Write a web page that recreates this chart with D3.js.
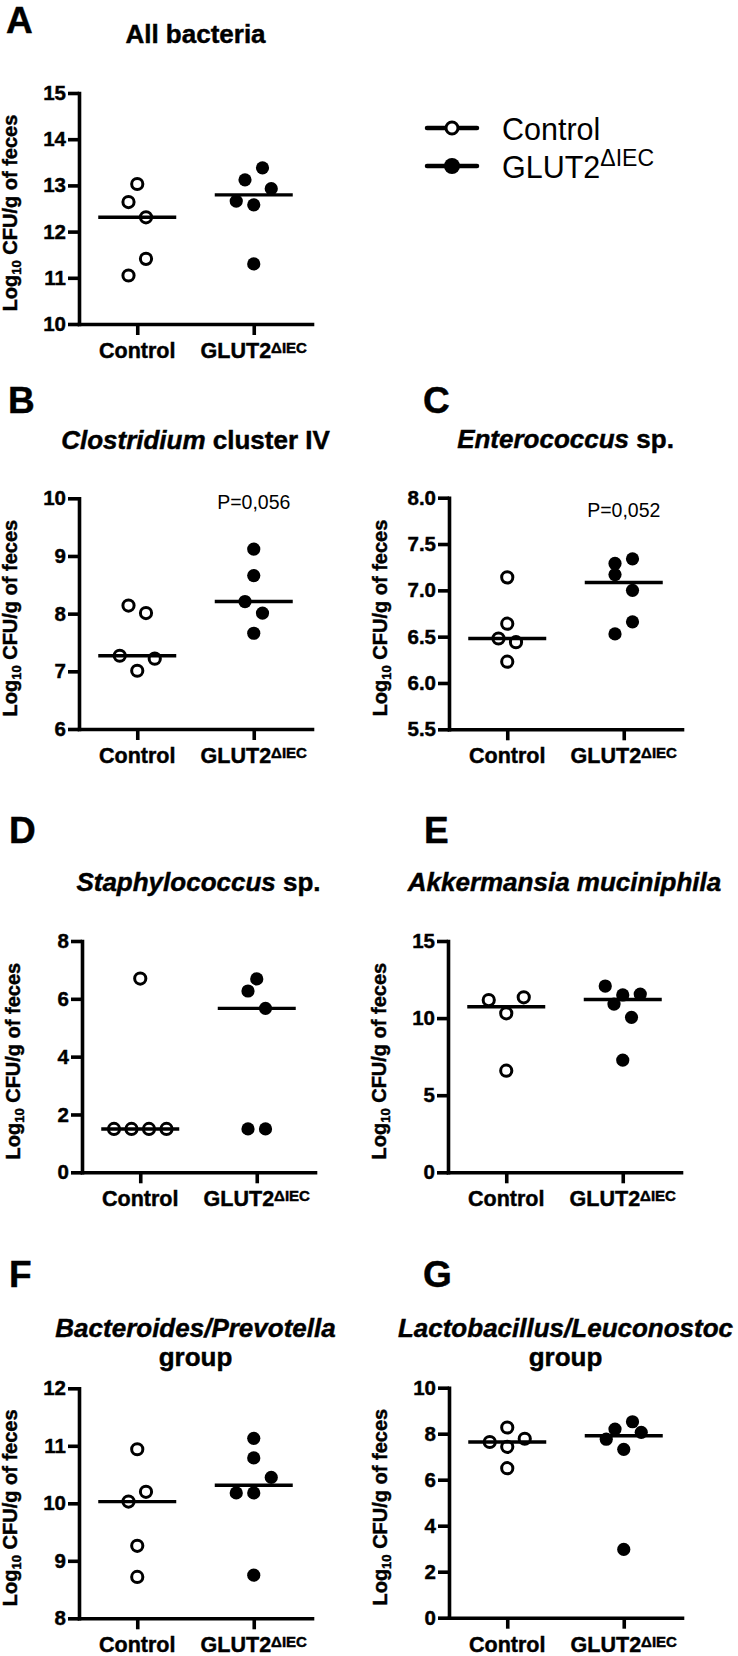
<!DOCTYPE html>
<html>
<head>
<meta charset="utf-8">
<script src="https://cdn.jsdelivr.net/npm/d3@7/dist/d3.min.js"></script>
<style>
  html, body { margin: 0; padding: 0; background: #fff; }
  svg { display: block; }
  text { font-family: "Liberation Sans", Arial, sans-serif; fill: #000; }
  .heavy { stroke: #000; stroke-width: 0.45px; }
</style>
</head>
<body>
<svg id="chart" width="738" height="1656"></svg>
<script>
// ---------------- DATA ----------------
const categories = ["Control", "GLUT2ΔIEC"];
const categoryMain = ["Control", "GLUT2"];
const categorySup = ["", "ΔIEC"];

const panelLetters = ["A", "B", "C", "D", "E", "F", "G"];

// title lines, each a list of [text, italic]
const panelTitles = [
  [[["All bacteria", false]]],
  [[["Clostridium", true], [" cluster IV", false]]],
  [[["Enterococcus", true], [" sp.", false]]],
  [[["Staphylococcus", true], [" sp.", false]]],
  [[["Akkermansia muciniphila", true]]],
  [[["Bacteroides/Prevotella", true]], [["group", false]]],
  [[["Lactobacillus/Leuconostoc", true]], [["group", false]]]
];

const yDomains = [[10, 15], [6, 10], [5.5, 8], [0, 8], [0, 15], [8, 12], [0, 10]];
const yTickValues = [
  [10, 11, 12, 13, 14, 15],
  [6, 7, 8, 9, 10],
  [5.5, 6.0, 6.5, 7.0, 7.5, 8.0],
  [0, 2, 4, 6, 8],
  [0, 5, 10, 15],
  [8, 9, 10, 11, 12],
  [0, 2, 4, 6, 8, 10]
];
const yTickFormats = ["d", "d", ".1f", "d", "d", "d", "d"];

const controlValues = [
  [13.03, 12.64, 12.31, 11.05, 11.41],
  [8.14, 8.01, 7.27, 7.01, 7.22],
  [7.14, 6.64, 6.48, 6.23, 6.44],
  [6.7, 1.5, 1.5, 1.5, 1.5],
  [6.59, 11.17, 10.31, 11.35],
  [10.94, 10.03, 10.20, 9.26, 8.72],
  [8.27, 7.64, 7.43, 7.78, 6.50]
];
const glutValues = [
  [13.12, 13.38, 12.66, 12.58, 12.93, 11.30],
  [9.12, 8.66, 8.21, 8.01, 7.66],
  [7.29, 7.34, 7.17, 7.00, 6.53, 6.66],
  [6.69, 6.27, 5.67, 1.5, 1.5],
  [12.08, 11.50, 11.56, 10.91, 10.05, 7.28],
  [11.13, 10.79, 10.18, 10.18, 10.45, 8.75],
  [8.20, 8.52, 7.76, 7.32, 8.06, 2.97]
];
const pLabels = [null, "P=0,056", "P=0,052", null, null, null, null];

const yLabelMain = "Log";
const yLabelSub = "10";
const yLabelRest = " CFU/g of feces";

// ---------------- LAYOUT ----------------
const layout = [
  { x0: 79,  yTop: 93,    yBot: 324,    titleY: [43],         letter: [6, 33],     pY: 0 },
  { x0: 79,  yTop: 498.3, yBot: 729,    titleY: [449],        letter: [8, 413],    pY: 509 },
  { x0: 449, yTop: 497.7, yBot: 729.3,  titleY: [448],        letter: [423, 413],  pY: 517 },
  { x0: 82,  yTop: 941,   yBot: 1172.3, titleY: [891],        letter: [9, 843],    pY: 0 },
  { x0: 448, yTop: 941,   yBot: 1172.3, titleY: [891],        letter: [424, 843],  pY: 0 },
  { x0: 79,  yTop: 1388.3,yBot: 1618.3, titleY: [1337, 1366], letter: [9, 1287],   pY: 0 },
  { x0: 449, yTop: 1387.7,yBot: 1617.7, titleY: [1337, 1366], letter: [423, 1287], pY: 0 }
];
const plotW = 233;
const AXIS_W = 3.6;
const STEP = 17.5;     // horizontal spread step for overlapping points
const THRESH = 18.3;   // vertical px distance for grouping overlapping points
const HALF_LINE = 39;

const svg = d3.select("#chart");

function spread(values, y) {
  const pts = values.map((v, i) => ({ v, i, py: y(v) }));
  const sorted = pts.slice().sort((a, b) => (b.py - a.py) || (a.i - b.i));
  const groups = [];
  let cur = null;
  for (const p of sorted) {
    if (cur && cur.start - p.py <= THRESH) cur.members.push(p);
    else { cur = { start: p.py, members: [p] }; groups.push(cur); }
  }
  groups.forEach(g => {
    g.members.sort((a, b) => a.i - b.i);
    const n = g.members.length;
    g.members.forEach((p, k) => { p.dx = (k - (n - 1) / 2) * STEP; });
  });
  return pts;
}

layout.forEach((L, pi) => {
  const g = svg.append("g");
  const x = d3.scalePoint().domain(categories).range([L.x0, L.x0 + plotW]).padding(0.5);
  const y = d3.scaleLinear().domain(yDomains[pi]).range([L.yBot, L.yTop]);

  // panel letter
  g.append("text").attr("x", L.letter[0]).attr("y", L.letter[1])
    .attr("font-size", 37).attr("font-weight", "bold").attr("class", "heavy").text(panelLetters[pi]);

  // title
  panelTitles[pi].forEach((line, li) => {
    const t = g.append("text").attr("x", L.x0 + plotW / 2).attr("y", L.titleY[li])
      .attr("text-anchor", "middle").attr("font-size", 26).attr("font-weight", "bold")
      .attr("class", "heavy");
    line.forEach(([txt, it]) => {
      t.append("tspan").attr("font-style", it ? "italic" : "normal").text(txt);
    });
  });

  // y axis
  const ya = g.append("g").attr("transform", `translate(${L.x0},0)`)
    .call(d3.axisLeft(y).tickValues(yTickValues[pi]).tickFormat(d3.format(yTickFormats[pi]))
      .tickSize(11).tickSizeOuter(0).tickPadding(2));
  ya.select(".domain").attr("stroke-width", AXIS_W).attr("stroke-linecap", "square");
  ya.selectAll(".tick line").attr("stroke-width", AXIS_W);
  ya.selectAll(".tick text").attr("font-size", 20.5).attr("font-weight", "bold")
    .attr("font-family", "'Liberation Sans', Arial, sans-serif").attr("fill", "#000")
    .attr("class", "heavy");

  // x axis
  const xa = g.append("g").attr("transform", `translate(0,${L.yBot})`)
    .call(d3.axisBottom(x).tickSize(11).tickSizeOuter(0).tickFormat(""));
  xa.select(".domain").attr("stroke-width", AXIS_W).attr("stroke-linecap", "square");
  xa.selectAll(".tick line").attr("stroke-width", AXIS_W);

  categories.forEach((c, ci) => {
    const t = g.append("text").attr("x", x(c)).attr("y", L.yBot + 34)
      .attr("text-anchor", "middle").attr("font-size", 21.5).attr("font-weight", "bold")
      .attr("class", "heavy");
    t.append("tspan").text(categoryMain[ci]);
    if (categorySup[ci]) {
      t.append("tspan").attr("font-size", 15).attr("dy", -5).text(categorySup[ci]);
    }
  });

  // y label
  const ly = (L.yTop + L.yBot) / 2 + 4.5;
  const yl = g.append("text").attr("transform", `translate(${L.x0 - 62},${ly}) rotate(-90)`)
    .attr("text-anchor", "middle").attr("font-size", 20).attr("font-weight", "bold")
    .attr("class", "heavy");
  yl.append("tspan").text(yLabelMain);
  yl.append("tspan").attr("font-size", 13).attr("dy", 4).text(yLabelSub);
  yl.append("tspan").attr("dy", -4).text(yLabelRest);

  // points
  const series = [controlValues[pi], glutValues[pi]];
  series.forEach((vals, si) => {
    const pts = spread(vals, y);
    const cx = x(categories[si]);
    g.append("g").selectAll("circle").data(pts).join("circle")
      .attr("cx", d => cx + d.dx).attr("cy", d => y(d.v))
      .attr("r", si === 0 ? 5.6 : 6.6)
      .attr("fill", si === 0 ? "#fff" : "#000")
      .attr("stroke", si === 0 ? "#000" : "none")
      .attr("stroke-width", si === 0 ? 3 : 0);
    const med = d3.median(vals);
    g.append("line").attr("x1", cx - HALF_LINE).attr("x2", cx + HALF_LINE)
      .attr("y1", y(med)).attr("y2", y(med))
      .attr("stroke", "#000").attr("stroke-width", 3.4);
  });

  if (pLabels[pi]) {
    g.append("text").attr("x", x(categories[1])).attr("y", L.pY)
      .attr("text-anchor", "middle").attr("font-size", 19.5).text(pLabels[pi]);
  }
});

// legend
const legendY = [128, 166];
const legend = svg.append("g");
categories.forEach((c, ci) => {
  const ly = legendY[ci];
  legend.append("line").attr("x1", 427).attr("x2", 477).attr("y1", ly).attr("y2", ly)
    .attr("stroke", "#000").attr("stroke-width", 4.5).attr("stroke-linecap", "round");
  legend.append("circle").attr("cx", 452).attr("cy", ly)
    .attr("r", ci === 0 ? 6 : 8)
    .attr("fill", ci === 0 ? "#fff" : "#000")
    .attr("stroke", ci === 0 ? "#000" : "none").attr("stroke-width", 3);
  const t = legend.append("text").attr("x", 502).attr("y", ly + 11.5).attr("font-size", 30.5);
  t.append("tspan").text(categoryMain[ci]);
  if (categorySup[ci]) t.append("tspan").attr("font-size", 23).attr("dy", -12).text(categorySup[ci]);
});
</script>
</body>
</html>
